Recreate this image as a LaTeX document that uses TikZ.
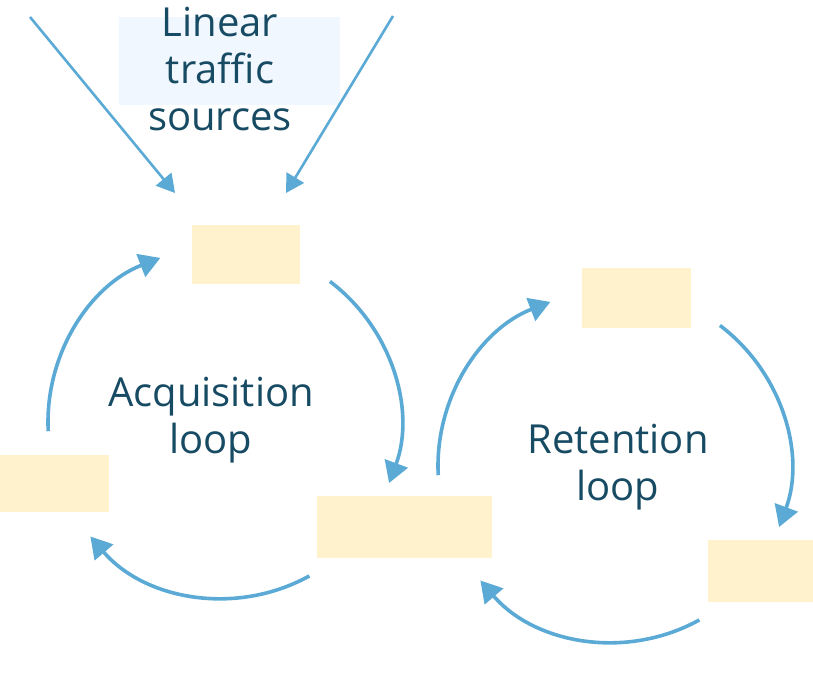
\documentclass[tikz,border=0pt]{standalone}
\usepackage{fontspec}
\setmainfont{Open Sans}
\usetikzlibrary{arrows.meta,calc}
\definecolor{txt}{HTML}{174B63}
\definecolor{arr}{HTML}{5AAAD5}
\definecolor{boxfill}{HTML}{FFF2CD}
\definecolor{lblfill}{HTML}{F0F7FE}
\begin{document}
\begin{tikzpicture}[x=1pt,y=-1pt,
  stagebox/.style={fill=boxfill, draw=none, inner sep=0pt},
  looptext/.style={text=txt, align=center, inner sep=0pt,
    font=\fontsize{40}{47}\selectfont},
  looparc/.style={draw=arr, line width=3.6pt,
    -{Triangle[length=21pt,width=24pt]}},
  srcarrow/.style={draw=arr, line width=2.6pt,
    -{Triangle[length=18pt,width=20pt]}}]
\useasboundingbox (0,0) rectangle (813,676);
% label background and text
\node[fill=lblfill, inner sep=0pt, minimum width=221pt, minimum height=88pt] (lblbg) at (229.5,61) {};
\node[looptext] (lbl) at (220,69) {Linear\\traffic\\sources};
% boxes
\node[stagebox, minimum width=108pt, minimum height=59pt] (acqtop) at (246,254.5) {};
\node[stagebox, minimum width=109pt, minimum height=57pt] (acqleft) at (54.5,483.5) {};
\node[stagebox, minimum width=175pt, minimum height=62pt] (mid) at (404.5,527) {};
\node[stagebox, minimum width=109pt, minimum height=60pt] (rettop) at (636.5,298) {};
\node[stagebox, minimum width=105pt, minimum height=62pt] (retright) at (760.5,571) {};
% loop labels
\node[looptext] (acqlbl) at (211,420) {Acquisition\\loop};
\node[looptext] (retlbl) at (618,467) {Retention\\loop};
% source arrows
\coordinate (srcA) at (30,17);
\coordinate (srcB) at (393,16);
\coordinate (inA) at (175,193);
\coordinate (inB) at (286,193);
\draw[srcarrow] (srcA) -- (inA);
\draw[srcarrow] (srcB) -- (inB);
% loop centres
\coordinate (c1) at (224,422);
\coordinate (c2) at (614,466);
\foreach \c/\n in {c1/a, c2/r}{
  \coordinate (\n1) at ($(\c)+(-53:176)$);
  \coordinate (\n2) at ($(\c)+(61:176)$);
  \coordinate (\n3) at ($(\c)+(177:176)$);
  \draw[looparc] (\n1) arc[start angle=-53, end angle=20.3, radius=176];
  \draw[looparc] (\n2) arc[start angle=61, end angle=139.4, radius=176];
  \draw[looparc] (\n3) arc[start angle=177, end angle=248.8, radius=176];
}
\end{tikzpicture}
\end{document}
